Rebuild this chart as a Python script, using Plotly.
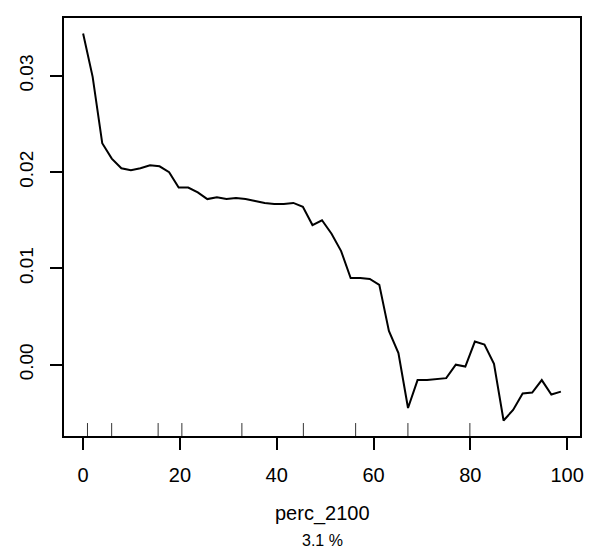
import plotly.graph_objects as go

# Partial dependence grid (x) and fitted values (y)
perc_2100 = [0.0, 1.97, 3.95, 5.92, 7.9, 9.87, 11.84, 13.82, 15.79, 17.77,
             19.74, 21.71, 23.69, 25.66, 27.64, 29.61, 31.58, 33.56, 35.53, 37.51,
             39.48, 41.45, 43.43, 45.4, 47.38, 49.35, 51.32, 53.3, 55.27, 57.25,
             59.22, 61.19, 63.17, 65.14, 67.12, 69.09, 71.06, 73.04, 75.01, 76.99,
             78.96, 80.93, 82.91, 84.88, 86.86, 88.83, 90.8, 92.78, 94.75, 96.73,
             98.7]
effect = [0.0344, 0.0299, 0.0230, 0.0214, 0.0204, 0.0202, 0.0204, 0.0207, 0.0206, 0.0200,
          0.0184, 0.0184, 0.0179, 0.0172, 0.0174, 0.0172, 0.0173, 0.0172, 0.0170, 0.0168,
          0.0167, 0.0167, 0.0168, 0.0164, 0.0145, 0.0150, 0.0136, 0.0118, 0.0090, 0.0090,
          0.0089, 0.0083, 0.0035, 0.0012, -0.0045, -0.0016, -0.0016, -0.0015, -0.0014, 0.0000,
          -0.0002, 0.0024, 0.0021, 0.0001, -0.0058, -0.0047, -0.0030, -0.0029, -0.0016, -0.0031,
          -0.0028]
# Rug (decile) positions
rug_x = [0.9, 5.9, 15.5, 20.4, 32.8, 45.5, 56.3, 67.1, 79.9]
x_ticks = [0, 20, 40, 60, 80, 100]
y_ticks = [0.00, 0.01, 0.02, 0.03]
y_tick_text = ["0.00", "0.01", "0.02", "0.03"]
x_title = "perc_2100"
sub_title = "3.1 %"

FONT = "Liberation Sans, Arial, sans-serif"

fig = go.Figure()
fig.add_trace(go.Scatter(x=perc_2100, y=effect, mode="lines",
                         line=dict(color="black", width=2), showlegend=False,
                         hoverinfo="skip"))

for rx in rug_x:
    fig.add_shape(type="line", xref="x", yref="y domain", x0=rx, x1=rx, y0=0, y1=0.031,
                  line=dict(color="#333333", width=1))

xr = max(perc_2100) - min(perc_2100)
yr = max(effect) - min(effect)
fig.update_layout(
    width=592, height=543,
    margin=dict(l=53, r=20, t=8, b=115),
    paper_bgcolor="white", plot_bgcolor="white",
    font=dict(family=FONT, size=20, color="black"),
    xaxis=dict(range=[min(perc_2100) - 0.04 * xr, max(perc_2100) + 0.04 * xr],
               tickvals=x_ticks, ticks="outside", ticklen=12, tickwidth=1.5,
               tickcolor="black", showline=True, linecolor="black", linewidth=1.5,
               mirror=True, showgrid=False, zeroline=False,
               ticklabelstandoff=8, tickfont=dict(size=20)),
    yaxis=dict(range=[min(effect) - 0.04 * yr, max(effect) + 0.04 * yr],
               tickvals=y_ticks, ticktext=y_tick_text, ticks="outside", ticklen=12,
               tickwidth=1.5, tickcolor="black", showline=True, linecolor="black",
               linewidth=1.5, mirror=True, showgrid=False, zeroline=False,
               tickangle=-90, ticklabelstandoff=10, tickfont=dict(size=19)),
    annotations=[
        dict(text=x_title, xref="paper", yref="paper", x=0.5, y=0, yshift=-77,
             xanchor="center", yanchor="middle", showarrow=False,
             font=dict(size=20, family=FONT)),
        dict(text=sub_title, xref="paper", yref="paper", x=0.5, y=0, yshift=-104,
             xanchor="center", yanchor="middle", showarrow=False,
             font=dict(size=16, family=FONT)),
    ],
)

fig.write_html("out.html")
